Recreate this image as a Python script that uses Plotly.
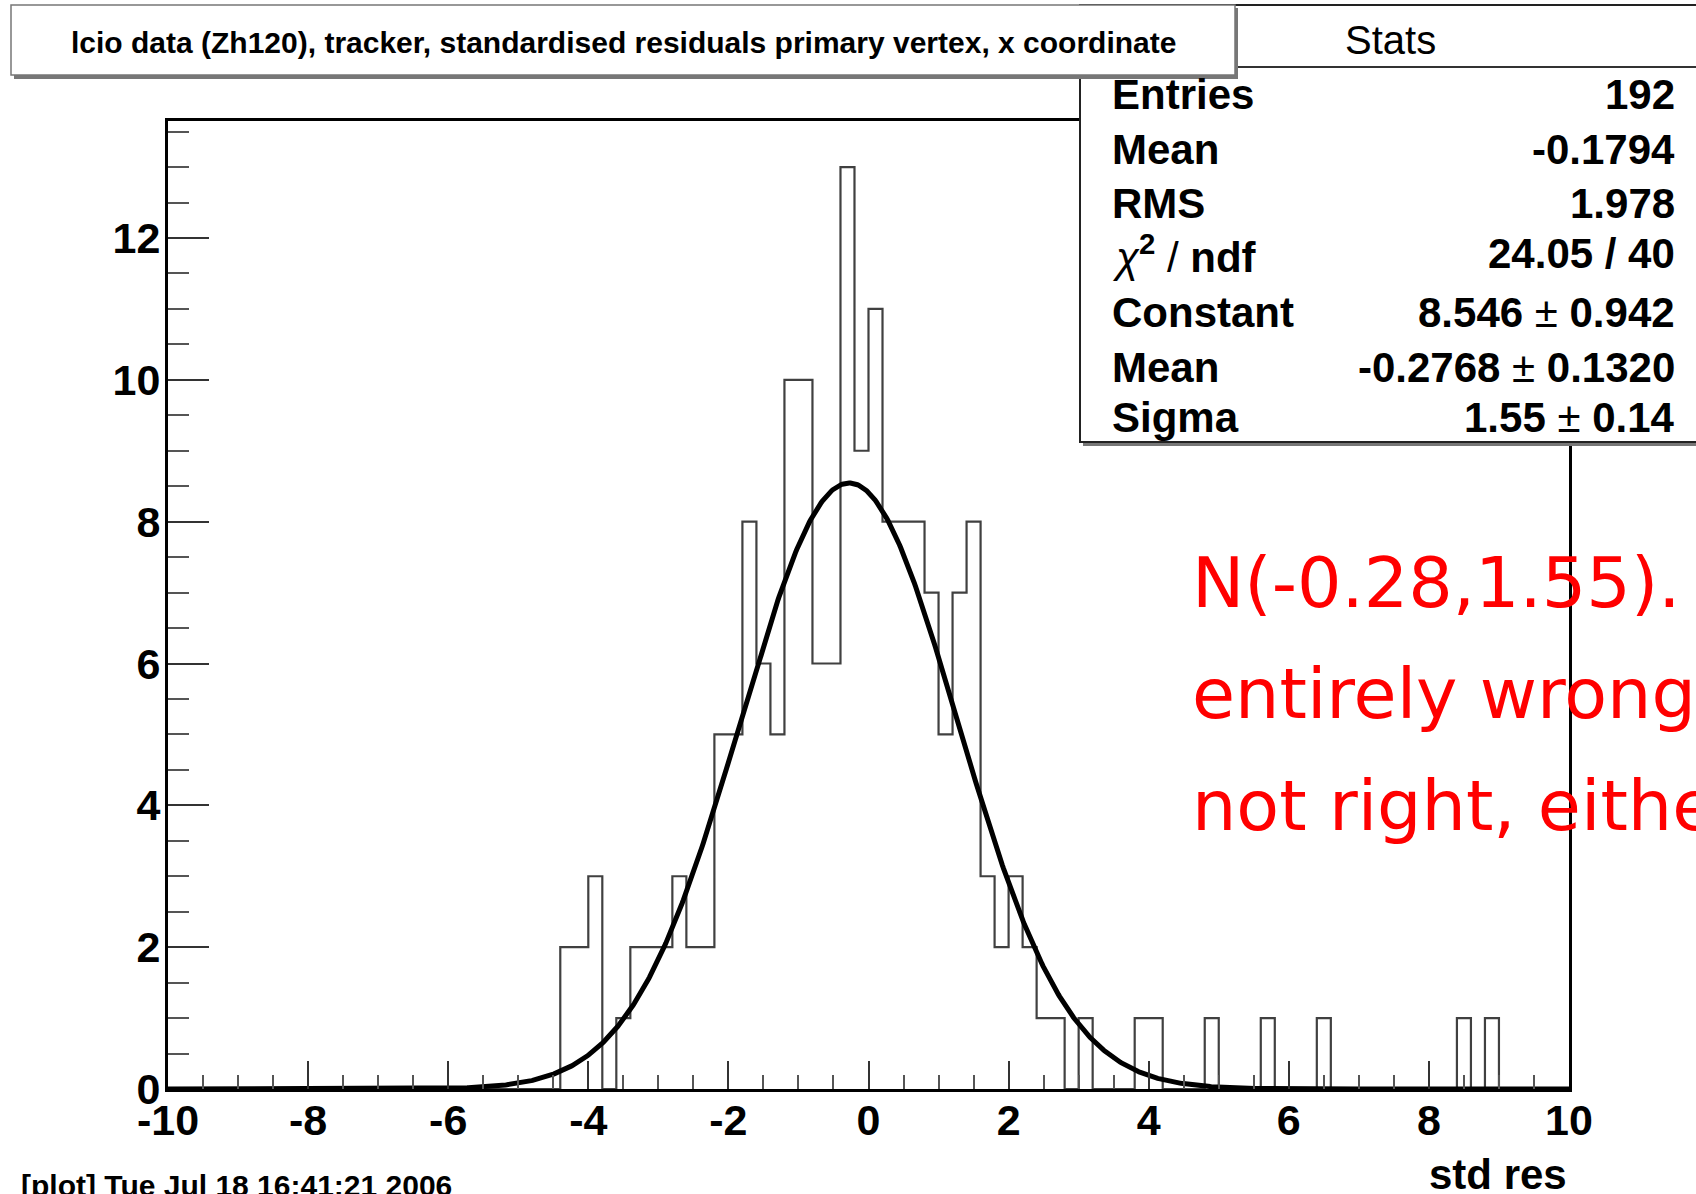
import numpy as np
import plotly.graph_objects as go

# ---------------- data ----------------
hist_xmin = -10.0
hist_xmax = 10.0
bin_width = 0.2
first_filled_bin = -4.4          # lower edge of first listed bin
counts = [2, 2, 3, 0, 1, 2, 2, 2, 3, 2, 2,        # -4.4 .. -2.4
          5, 5, 8, 6, 5, 10, 10, 6, 6, 13, 9,     # -2.2 .. -0.2
          11, 8, 8, 8, 7, 5, 7, 8, 3, 2, 3, 2,    # 0.0 .. 2.2
          1, 1, 0, 1, 0, 0, 0, 1, 1, 0, 0, 0,     # 2.4 .. 4.6
          1, 0, 0, 0, 1, 0, 0, 0, 1,              # 4.8 .. 6.4
          0, 0, 0, 0, 0, 0, 0, 0, 0,              # 6.6 .. 8.2
          1, 0, 1]                                # 8.4 .. 8.8

fit_constant = 8.546
fit_mean = -0.2768
fit_sigma = 1.55

x_tickvals = [-10, -8, -6, -4, -2, 0, 2, 4, 6, 8, 10]
x_ticktext = ["-10", "-8", "-6", "-4", "-2", "0", "2", "4", "6", "8", "10"]
y_tickvals = [0, 2, 4, 6, 8, 10, 12]
y_ticktext = ["0", "2", "4", "6", "8", "10", "12"]
y_max = 13.65

title_text = "lcio data (Zh120), tracker, standardised residuals primary vertex, x coordinate"
stats_title = "Stats"
stats_labels = ["Entries", "Mean", "RMS", "<i style='font-weight:normal'>χ</i><sup>2</sup><span style='font-weight:normal'> / </span>ndf",
                "Constant", "Mean", "Sigma"]
stats_values = ["192", "-0.1794", "1.978", "24.05 / 40",
                "8.546<span style='font-weight:normal'> ± </span>0.942",
                "-0.2768<span style='font-weight:normal'> ± </span>0.1320",
                "1.55<span style='font-weight:normal'> ± </span>0.14"]
x_title = "std res"
date_text = "[plot] Tue Jul 18 16:41:21 2006"
note_lines = ["N(-0.28,1.55).", "entirely wrong.", "not right, either."]

# ---------------- build histogram ----------------
nbins = int(round((hist_xmax - hist_xmin) / bin_width))
full_counts = np.zeros(nbins)
start = int(round((first_filled_bin - hist_xmin) / bin_width))
full_counts[start:start + len(counts)] = counts
edges = hist_xmin + bin_width * np.arange(nbins + 1)
step_y = np.append(full_counts, full_counts[-1])

xf = np.linspace(hist_xmin, hist_xmax, 1200)
yf = fit_constant * np.exp(-0.5 * ((xf - fit_mean) / fit_sigma) ** 2)

# ---------------- geometry ----------------
W, H = 1696, 1194
L, R, T, B = 168, 127, 121, 105
PW, PH = W - L - R, H - T - B


def px(x):
    return (x - L) / PW


def py(y):
    return (H - B - y) / PH


FONT = "Liberation Sans, Arial, sans-serif"

fig = go.Figure()
fig.add_trace(go.Scatter(x=edges, y=step_y, mode="lines", line=dict(shape="hv", color="#404040", width=2.2),
                         hoverinfo="skip"))
fig.add_trace(go.Scatter(x=xf, y=yf, mode="lines", line=dict(color="black", width=5), hoverinfo="skip"))

shapes = []
# stats box (shadow + box + header line)
shapes.append(dict(type="rect", xref="paper", yref="paper", x0=px(1083), x1=px(1710), y0=py(446), y1=py(8),
                   fillcolor="#777777", line=dict(width=0), layer="above"))
shapes.append(dict(type="rect", xref="paper", yref="paper", x0=px(1080), x1=px(1705), y0=py(442), y1=py(5),
                   fillcolor="white", line=dict(color="#222222", width=2), layer="above"))
shapes.append(dict(type="line", xref="paper", yref="paper", x0=px(1080), x1=px(1705), y0=py(67), y1=py(67),
                   line=dict(color="#333333", width=2), layer="above"))
# title box
shapes.append(dict(type="rect", xref="paper", yref="paper", x0=px(14), x1=px(1238), y0=py(79), y1=py(8),
                   fillcolor="#777777", line=dict(width=0), layer="above"))
shapes.append(dict(type="rect", xref="paper", yref="paper", x0=px(11), x1=px(1235), y0=py(75), y1=py(5),
                   fillcolor="white", line=dict(color="#777777", width=1.5), layer="above"))

ann = []
ann.append(dict(text=title_text, x=px(623), y=py(42), xref="paper", yref="paper", showarrow=False,
                xanchor="center", yanchor="middle", font=dict(family=FONT, size=30, color="black", weight="bold")))
ann.append(dict(text=stats_title, x=px(1390), y=py(40), xref="paper", yref="paper", showarrow=False,
                xanchor="center", yanchor="middle", font=dict(family=FONT, size=40, color="black")))
row_y = [95, 149, 203, 254, 312, 367, 417]
for lab, val, ry in zip(stats_labels, stats_values, row_y):
    ann.append(dict(text=lab, x=px(1110), y=py(ry), xref="paper", yref="paper", showarrow=False,
                    xanchor="left", yanchor="middle",
                    font=dict(family=FONT, size=42, color="black", weight="bold")))
    ann.append(dict(text=val, x=px(1677), y=py(ry), xref="paper", yref="paper", showarrow=False,
                    xanchor="right", yanchor="middle",
                    font=dict(family=FONT, size=42, color="black", weight="bold")))
ann.append(dict(text=x_title, x=px(1569), y=py(1174), xref="paper", yref="paper", showarrow=False,
                xanchor="right", yanchor="middle", font=dict(family=FONT, size=42, color="black", weight="bold")))
ann.append(dict(text=date_text, x=px(19), y=py(1185), xref="paper", yref="paper", showarrow=False,
                xanchor="left", yanchor="middle", font=dict(family=FONT, size=30, color="black", weight="bold")))
note_y = [583, 694, 806]
for t, ny in zip(note_lines, note_y):
    ann.append(dict(text=t, x=px(1190), y=py(ny), xref="paper", yref="paper", showarrow=False,
                    xanchor="left", yanchor="middle",
                    font=dict(family="DejaVu Sans, sans-serif", size=70, color="#ff0000")))

fig.update_layout(
    width=W, height=H, margin=dict(l=L, r=R, t=T, b=B, pad=0),
    paper_bgcolor="white", plot_bgcolor="white", showlegend=False,
    shapes=shapes, annotations=ann,
    xaxis=dict(range=[hist_xmin, hist_xmax], tickmode="array", tickvals=x_tickvals, ticktext=x_ticktext,
               ticks="inside", ticklen=28, tickwidth=2, tickcolor="#333333",
               minor=dict(tickmode="linear", tick0=0, dtick=0.5, ticks="inside", ticklen=14,
                          tickwidth=2, tickcolor="#555555", showgrid=False),
               showgrid=False, zeroline=False, showline=True, linecolor="black", linewidth=3, mirror=True,
               tickfont=dict(family=FONT, size=43, color="black", weight="bold"), ticklabelstandoff=-9),
    yaxis=dict(range=[0, y_max], tickmode="array", tickvals=y_tickvals, ticktext=y_ticktext,
               ticks="inside", ticklen=41, tickwidth=2, tickcolor="#333333",
               minor=dict(tickmode="linear", tick0=0, dtick=0.5, ticks="inside", ticklen=21,
                          tickwidth=2, tickcolor="#555555", showgrid=False),
               showgrid=False, zeroline=False, showline=True, linecolor="black", linewidth=3, mirror=True,
               tickfont=dict(family=FONT, size=43, color="black", weight="bold"), ticklabelstandoff=-4),
)

fig.write_html("out.html")
